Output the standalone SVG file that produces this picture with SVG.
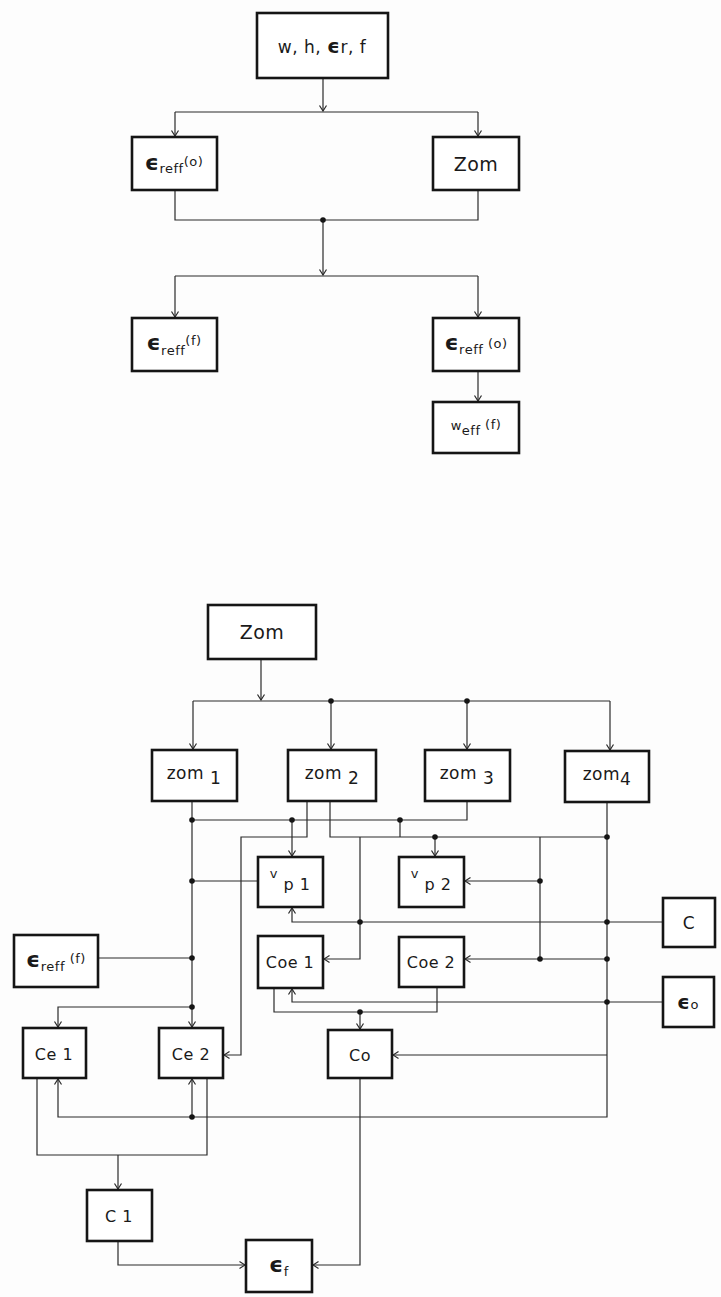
<svg xmlns="http://www.w3.org/2000/svg" width="721" height="1297" viewBox="0 0 721 1297">
<style>
.box{fill:#fff;stroke:#151515;stroke-width:2.6}
.ln{fill:none;stroke:#2a2a2a;stroke-width:1.2}
.ar{marker-end:url(#ah)}
.dot{fill:#151515}
text{font-family:"DejaVu Sans","Liberation Sans",sans-serif;fill:#1a1a1a;font-size:16px;text-anchor:middle;letter-spacing:0.5px}
text.big{font-size:19px}
text.mid{font-size:17px}
.eps{font-weight:bold;font-size:22px}
.sub{font-size:13px}
</style>
<defs>
<marker id="ah" viewBox="-7 -5 8 10" refX="0" refY="0" markerWidth="8" markerHeight="10" markerUnits="userSpaceOnUse" orient="auto">
<path d="M-5.5,-3.5 L0,0 L-5.5,3.5" fill="none" stroke="#2a2a2a" stroke-width="1.2"/>
</marker>
</defs>
<rect width="721" height="1297" fill="#fdfdfd"/>

<g id="connectors">
<path class="ln ar" d="M323,78 V111"/>
<path class="ln" d="M175,112 H478"/>
<path class="ln ar" d="M175,112 V136"/>
<path class="ln ar" d="M478,112 V136"/>
<path class="ln" d="M175,190 V220 H478 V190"/>
<path class="ln ar" d="M323,220 V275"/>
<path class="ln" d="M175,276 H478"/>
<path class="ln ar" d="M175,276 V317"/>
<path class="ln ar" d="M478,276 V317"/>
<path class="ln ar" d="M478,371 V401"/>
<circle class="dot" cx="323" cy="220" r="2.8"/>

<path class="ln ar" d="M261,659 V700"/>
<path class="ln" d="M193,701 H610"/>
<path class="ln ar" d="M193,701 V749"/>
<path class="ln ar" d="M331,701 V749"/>
<path class="ln ar" d="M467,701 V749"/>
<path class="ln ar" d="M610,701 V750"/>
<circle class="dot" cx="331" cy="701" r="2.8"/>
<circle class="dot" cx="467" cy="701" r="2.8"/>

<path class="ln ar" d="M192,801 V1027"/>
<path class="ln" d="M192,820 H467 V801"/>
<path class="ln ar" d="M292,820 V856"/>
<path class="ln" d="M400,820 V837"/>
<path class="ln ar" d="M307,801 V837 H241 V1055 H224"/>
<path class="ln" d="M330,801 V837 H607"/>
<path class="ln ar" d="M435,837 V856"/>
<path class="ln" d="M540,837 V959"/>
<path class="ln ar" d="M540,881 H465"/>
<path class="ln ar" d="M607,959 H465"/>
<path class="ln ar" d="M360,837 V959 H324"/>
<path class="ln" d="M192,881 H258"/>
<path class="ln ar" d="M663,922 H292 V908"/>
<path class="ln" d="M98,958 H192"/>
<path class="ln ar" d="M663,1002 H292 V989"/>
<path class="ln" d="M274,988 V1012 H437 V987"/>
<path class="ln ar" d="M360,1012 V1029"/>
<path class="ln ar" d="M192,1007 H58 V1027"/>
<path class="ln ar" d="M607,802 V1117 H58 V1079"/>
<path class="ln ar" d="M607,1055 H393"/>
<path class="ln ar" d="M192,1117 V1079"/>
<path class="ln" d="M37,1078 V1155 H207 V1078"/>
<path class="ln ar" d="M118,1155 V1189"/>
<path class="ln ar" d="M118,1241 V1265 H245"/>
<path class="ln ar" d="M360,1078 V1265 H313"/>

<circle class="dot" cx="192" cy="820" r="2.8"/>
<circle class="dot" cx="292" cy="820" r="2.8"/>
<circle class="dot" cx="400" cy="820" r="2.8"/>
<circle class="dot" cx="435" cy="837" r="2.8"/>
<circle class="dot" cx="607" cy="837" r="2.8"/>
<circle class="dot" cx="192" cy="881" r="2.8"/>
<circle class="dot" cx="540" cy="881" r="2.8"/>
<circle class="dot" cx="360" cy="922" r="2.8"/>
<circle class="dot" cx="607" cy="922" r="2.8"/>
<circle class="dot" cx="192" cy="958" r="2.8"/>
<circle class="dot" cx="540" cy="959" r="2.8"/>
<circle class="dot" cx="607" cy="959" r="2.8"/>
<circle class="dot" cx="607" cy="1002" r="2.8"/>
<circle class="dot" cx="192" cy="1007" r="2.8"/>
<circle class="dot" cx="360" cy="1012" r="2.8"/>
<circle class="dot" cx="192" cy="1117" r="2.8"/>
</g>

<g id="n-input"><rect class="box" x="257" y="13" width="131" height="65"/>
<text class="mid" x="322" y="53">w, h, <tspan class="eps" style="font-size:20px">ϵ</tspan>r, f</text></g>
<g id="n-ereff0"><rect class="box" x="132" y="137" width="85" height="53"/>
<text x="174" y="170"><tspan class="eps">ϵ</tspan><tspan class="sub" dy="3">reff</tspan><tspan class="sub" dy="-7">(o)</tspan></text></g>
<g id="n-zom-top"><rect class="box" x="433" y="137" width="86" height="53"/>
<text class="big" x="476" y="171">Zom</text></g>
<g id="n-erefff"><rect class="box" x="132" y="318" width="85" height="53"/>
<text x="174" y="350"><tspan class="eps">ϵ</tspan><tspan class="sub" dy="5">reff</tspan><tspan class="sub" dy="-10">(f)</tspan></text></g>
<g id="n-ereff0b"><rect class="box" x="433" y="318" width="86" height="53"/>
<text x="476" y="350"><tspan class="eps">ϵ</tspan><tspan class="sub" dy="4">reff</tspan><tspan class="sub" dy="-6"> (o)</tspan></text></g>
<g id="n-wefff"><rect class="box" x="433" y="402" width="86" height="51"/>
<text x="476" y="433"><tspan class="sub" dy="-3">w</tspan><tspan class="sub" dy="5">eff</tspan><tspan class="sub" dy="-6"> (f)</tspan></text></g>

<g id="n-zom"><rect class="box" x="208" y="605" width="108" height="54"/>
<text class="big" x="262" y="639">Zom</text></g>
<g id="n-zom1"><rect class="box" x="152" y="750" width="85" height="51"/>
<text class="mid" x="194" y="779">zom<tspan dy="5"> 1</tspan></text></g>
<g id="n-zom2"><rect class="box" x="288" y="750" width="88" height="51"/>
<text class="mid" x="332" y="779">zom<tspan dy="5"> 2</tspan></text></g>
<g id="n-zom3"><rect class="box" x="425" y="750" width="85" height="51"/>
<text class="mid" x="467" y="779">zom<tspan dy="5"> 3</tspan></text></g>
<g id="n-zom4"><rect class="box" x="565" y="751" width="84" height="51"/>
<text class="mid" x="607" y="780">zom<tspan dy="5">4</tspan></text></g>
<g id="n-vp1"><rect class="box" x="258" y="857" width="65" height="50"/>
<text x="290" y="878"><tspan class="sub">v</tspan><tspan dy="12"> p 1</tspan></text></g>
<g id="n-vp2"><rect class="box" x="399" y="857" width="65" height="50"/>
<text x="431" y="878"><tspan class="sub">v</tspan><tspan dy="12"> p 2</tspan></text></g>
<g id="n-c"><rect class="box" x="663" y="898" width="52" height="49"/>
<text class="mid" x="689" y="929">C</text></g>
<g id="n-erefff2"><rect class="box" x="14" y="935" width="84" height="52"/>
<text x="56" y="967"><tspan class="eps">ϵ</tspan><tspan class="sub" dy="4">reff</tspan><tspan class="sub" dy="-8"> (f)</tspan></text></g>
<g id="n-coe1"><rect class="box" x="258" y="936" width="65" height="52"/>
<text x="290" y="968">Coe 1</text></g>
<g id="n-coe2"><rect class="box" x="399" y="937" width="65" height="50"/>
<text x="431" y="968">Coe 2</text></g>
<g id="n-eo"><rect class="box" x="663" y="977" width="51" height="50"/>
<text x="688" y="1009"><tspan class="eps" style="font-size:20px">ϵ</tspan><tspan class="sub">o</tspan></text></g>
<g id="n-ce1"><rect class="box" x="23" y="1028" width="63" height="50"/>
<text x="54" y="1060">Ce 1</text></g>
<g id="n-ce2"><rect class="box" x="159" y="1028" width="64" height="50"/>
<text x="191" y="1060">Ce 2</text></g>
<g id="n-co"><rect class="box" x="328" y="1030" width="64" height="48"/>
<text x="360" y="1061">Co</text></g>
<g id="n-c1"><rect class="box" x="87" y="1190" width="65" height="51"/>
<text x="119" y="1222">C 1</text></g>
<g id="n-ef"><rect class="box" x="246" y="1240" width="66" height="52"/>
<text x="279" y="1272"><tspan class="eps">ϵ</tspan><tspan class="sub" dy="4">f</tspan></text></g>
</svg>
